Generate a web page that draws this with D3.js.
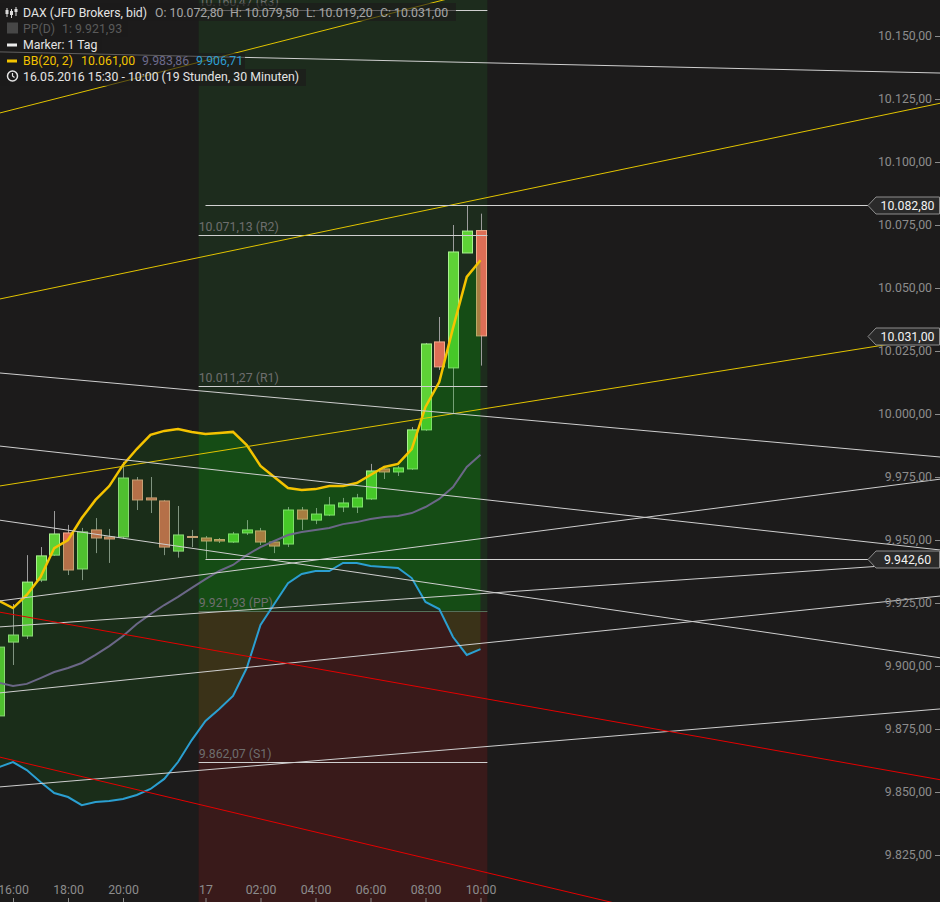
<!DOCTYPE html>
<html><head><meta charset="utf-8">
<script src="https://cdn.jsdelivr.net/npm/d3@7"></script>
<style>body{margin:0;background:#1c1b1b;} svg{display:block;font-family:Roboto, "Noto Sans", sans-serif;}</style>
</head><body><svg id="c" width="940" height="902"></svg>
<script>
// ---------- DATA ----------
const times = ["15:30","16:00","16:30","17:00","17:30","18:00","18:30","19:00","19:30","20:00","20:30","21:00","21:30","22:00","22:30",
  "00:00","00:30","01:00","01:30","02:00","02:30","03:00","03:30","04:00","04:30","05:00","05:30","06:00","06:30","07:00","07:30","08:00","08:30","09:00","09:30","10:00"];
const open  = [9880.2,9909.5,9911.9,9934.1,9944.0,9952.8,9938.5,9954.0,9951.2,9951.2,9973.8,9966.7,9965.5,9945.6,9951.4,9950.8,9950.2,9949.2,9952.8,9953.6,9949.2,9948.4,9961.9,9957.9,9959.9,9963.1,9963.1,9966.3,9978.2,9977.0,9978.2,9993.7,10028.6,10018.3,10063.9,10072.8];
const high  = [9909.0,9924.6,9944.0,9947.2,9961.5,9956.0,9954.8,9958.7,9954.4,9981.0,9975.0,9975.0,9965.9,9963.5,9954.0,9951.6,9950.8,9953.2,9957.9,9954.8,9950.0,9963.1,9963.1,9962.7,9967.1,9966.7,9968.3,9980.2,9979.0,9979.4,9994.8,10028.2,10038.5,10075.0,10082.8,10079.5];
const low   = [9876.0,9900.4,9910.7,9933.3,9943.7,9936.1,9934.1,9944.8,9940.9,9950.4,9961.9,9960.7,9944.0,9943.0,9947.2,9942.6,9948.8,9948.8,9952.0,9948.0,9944.8,9947.2,9954.0,9956.3,9959.5,9961.1,9960.7,9965.9,9974.2,9975.4,9977.8,9993.3,10017.5,10000.4,10063.9,10019.2];
const close = [9907.5,9912.3,9933.3,9943.7,9952.4,9938.1,9953.2,9950.8,9950.4,9974.6,9965.9,9965.9,9947.2,9952.0,9951.0,9949.6,9949.6,9952.4,9954.0,9949.2,9947.6,9961.9,9958.3,9960.3,9963.9,9964.7,9966.7,9977.4,9977.0,9978.6,9993.7,10027.8,10018.7,10064.3,10072.6,10031.0];

const bbUpper  = [9925.8,9923.0,9928.2,9935.3,9946.8,9950.0,9958.7,9965.9,9971.4,9979.8,9986.1,9991.7,9993.3,9994.0,9992.9,9992.1,9992.5,9992.9,9987.7,9979.4,9975.0,9970.6,9969.8,9970.2,9971.4,9971.4,9972.6,9975.8,9979.0,9980.2,9986.1,10002.8,10012.7,10034.1,10054.4,10061.00];
const bbMiddle = [9893.3,9892.1,9892.9,9895.2,9897.6,9899.2,9901.2,9904.4,9907.9,9911.9,9916.7,9920.6,9924.2,9927.4,9931.0,9934.5,9937.7,9940.1,9944.0,9947.2,9949.6,9952.0,9953.2,9954.0,9954.8,9956.3,9957.1,9958.3,9959.1,9959.5,9960.7,9963.1,9966.3,9971.0,9979.0,9983.86];
const bbLower  = [9859.9,9861.9,9858.7,9854.0,9849.6,9848.0,9844.8,9846.0,9846.4,9847.2,9848.8,9851.2,9855.2,9861.9,9870.6,9878.2,9882.9,9888.1,9899.2,9916.3,9924.6,9932.9,9936.5,9937.7,9937.7,9940.9,9940.9,9939.7,9939.3,9938.9,9934.9,9925.4,9922.6,9911.5,9904.4,9906.71];

const tickIdx    = [1,5,9,15,19,23,27,31,35];
const tickLabels = ["16:00","18:00","20:00","17","02:00","04:00","06:00","08:00","10:00"];
const priceTicks = [9825,9850,9875,9900,9925,9950,9975,10000,10025,10050,10075,10100,10125,10150];

const pivotNames  = ["R3","R2","R1","PP","S1"];
const pivotValues = [10160.47,10071.13,10011.27,9921.93,9862.07];
const markerValues = [10082.80, 9942.60];
const lastPrice = 10031.00;

// trend lines: price at left edge (index 0) and at right edge (index 68.5)
const trendKind  = ["yellow","yellow","yellow","white","white","white","white","white","white","white","white","red","red"];
const trendLeft  = [10119.4,10045.6,9971.4,10143.7,10016.3,9987.3,9957.9,9925.8,9915.5,9889.3,9852.0,9921.4,9863.9];
const trendRight = [10214.6,10123.4,10031.0,10135.3,9982.9,9946.0,9903.2,9974.2,9941.3,9927.8,9883.0,9854.8,9775.2];
const trendIdx = [0, 68.5];

// ---------- DRAW ----------
const W = 940, H = 902, FS = 12.3;
const svg = d3.select("#c");
const x = d3.scaleLinear().domain([0,35]).range([-0.75,480.5]);
const y = d3.scaleLinear().domain([9806.35,10164.29]).range([H,0]);
const fmt = d3.formatLocale({decimal:",",thousands:".",grouping:[3],currency:["","€"]}).format(",.2f");
const idx = d3.range(times.length);

svg.append("rect").attr("width",W).attr("height",H).attr("fill","#1c1b1b");

const zx0 = x(14.5), zx1 = x(35.5), ppY = y(pivotValues[3]);
svg.append("rect").attr("x",zx0).attr("y",0).attr("width",zx1-zx0).attr("height",ppY).attr("fill","#1d2c1d");
svg.append("rect").attr("x",zx0).attr("y",ppY).attr("width",zx1-zx0).attr("height",H-ppY).attr("fill","#391a1a");

// candles
const cg = svg.append("g");
idx.forEach(i=>{
  const up = close[i] >= open[i];
  const cx = Math.round(x(i)) + 0.5;
  cg.append("line").attr("x1",cx).attr("x2",cx).attr("y1",y(high[i])).attr("y2",y(low[i]))
    .attr("stroke","#9c9c9c").attr("stroke-width",1);
  const top = y(Math.max(open[i],close[i])), bot = y(Math.min(open[i],close[i]));
  cg.append("rect").attr("x",cx-5).attr("y",top).attr("width",10).attr("height",Math.max(1,bot-top))
    .attr("fill", up ? "#5ed236" : "#de6e56")
    .attr("stroke", up ? "#a8f28e" : "#f2ab8c").attr("stroke-width",1);
});

// BB fill overlay
const defs = svg.append("defs");
function clip(id,x0,y0,w,h){defs.append("clipPath").attr("id",id).append("rect").attr("x",x0).attr("y",y0).attr("width",w).attr("height",h);}
clip("cl",-10,0,zx0+10,H); clip("cg",zx0,0,zx1-zx0,ppY); clip("cr",zx0,ppY,zx1-zx0,H-ppY);
const area = d3.area().x(i=>x(i)).y0(i=>y(bbLower[i])).y1(i=>y(bbUpper[i]));
[["cl","rgba(20,122,20,0.2)"],["cg","rgba(0,170,0,0.25)"],["cr","rgba(62,122,18,0.25)"]].forEach(([c,f])=>{
  svg.append("path").datum(idx).attr("d",area).attr("fill",f).attr("clip-path",`url(#${c})`);
});

// pivot lines & labels
pivotValues.forEach((v,k)=>{
  const yy = Math.round(y(v))+0.5;
  svg.append("line").attr("x1",zx0).attr("x2",zx1).attr("y1",yy).attr("y2",yy)
    .attr("stroke", pivotNames[k]==="PP" ? "#55705a" : "#cfcfcf").attr("stroke-width",1);
  svg.append("text").attr("x",zx0).attr("y",yy-4.5).attr("font-size",FS).attr("fill","#6e6e6e")
    .text(fmt(v)+" ("+pivotNames[k]+")");
});

// BB lines
const line = arr => d3.line().x(i=>x(i)).y(i=>y(arr[i]));
svg.append("path").datum(idx).attr("d",line(bbMiddle)).attr("fill","none").attr("stroke","#6b6787").attr("stroke-width",2);
svg.append("path").datum(idx).attr("d",line(bbLower)).attr("fill","none").attr("stroke","#2b9fd1").attr("stroke-width",2);
svg.append("path").datum(idx).attr("d",line(bbUpper)).attr("fill","none").attr("stroke","#f4c300").attr("stroke-width",2.5);

// trend lines
const tcol = {yellow:"#e2c400", white:"#cfcfcf", red:"#e40000"};
trendKind.forEach((k,j)=>{
  svg.append("line").attr("x1",x(trendIdx[0])).attr("y1",y(trendLeft[j]))
    .attr("x2",x(trendIdx[1])).attr("y2",y(trendRight[j]))
    .attr("stroke",tcol[k]).attr("stroke-width",1);
});

// marker lines
markerValues.forEach(v=>{
  const yy = Math.round(y(v))+0.5;
  svg.append("line").attr("x1",x(15)).attr("x2",868).attr("y1",yy).attr("y2",yy).attr("stroke","#d2d2d2").attr("stroke-width",1);
});

// axes
const ay = svg.append("g").attr("transform",`translate(${W},0)`)
  .call(d3.axisLeft(y).tickValues(priceTicks).tickFormat(fmt).tickSize(5).tickPadding(3));
ay.select(".domain").remove();
ay.selectAll("text").attr("fill","#8c8c8c").attr("font-size",FS).attr("font-family","Roboto, sans-serif");
ay.selectAll("line").attr("stroke","#8c8c8c");

const ax = svg.append("g").attr("transform",`translate(0,${H})`)
  .call(d3.axisTop(x).tickValues(tickIdx).tickFormat((d,k)=>tickLabels[k]).tickSize(4).tickPadding(4));
ax.select(".domain").remove();
ax.selectAll("text").attr("fill","#8c8c8c").attr("font-size",FS).attr("font-family","Roboto, sans-serif");
ax.selectAll("line").attr("stroke","#8c8c8c");

// price tags
[markerValues[0], lastPrice, markerValues[1]].forEach(v=>{
  const yy = Math.round(y(v))+0.5;
  svg.append("path").attr("d",`M868,${yy} L876,${yy-8.5} L939.5,${yy-8.5} L939.5,${yy+8.5} L876,${yy+8.5} Z`)
    .attr("fill","#2a2a2a").attr("stroke","#8e8e8e").attr("stroke-width",1);
  svg.append("text").attr("x",907.5).attr("y",yy+4.3).attr("text-anchor","middle").attr("font-size",FS)
    .attr("fill","#f2f2f2").text(fmt(v));
});

// legend
const lg = svg.append("g");
const boxes = [[3,21,456],[21,37,128],[37,53,102],[53,69,245],[69,86,306]];
boxes.forEach(([y0,y1,w])=>lg.append("rect").attr("x",0).attr("y",y0).attr("width",w).attr("height",y1-y0).attr("fill","rgba(27,26,26,0.62)"));
function t(xx,yy,s,c){lg.append("text").attr("x",xx).attr("y",yy).attr("font-size",FS).attr("fill",c).text(s);}
// icon row1 (candles)
[[7,8,17,10,14],[11.5,9,18,11,15],[16,7,16,9,12]].forEach(([cx,a,b,c,d])=>{
  lg.append("line").attr("x1",cx).attr("x2",cx).attr("y1",a).attr("y2",b).attr("stroke","#dcdcdc");
  lg.append("rect").attr("x",cx-1.5).attr("y",c).attr("width",3).attr("height",d-c).attr("fill","#dcdcdc");
});
t(23,17,"DAX (JFD Brokers, bid)","#e4e4e4");
t(155,17,"O: "+fmt(open[35]),"#a6a6a6");
t(230,17,"H: "+fmt(high[35]),"#a6a6a6");
t(306,17,"L: "+fmt(low[35]),"#a6a6a6");
t(380,17,"C: "+fmt(close[35]),"#a6a6a6");
lg.append("rect").attr("x",7).attr("y",22.5).attr("width",11).attr("height",11).attr("fill","#474747");
t(23,33,"PP(D)","#5a5a5a");
t(62,33,"1: "+fmt(pivotValues[3]),"#5a5a5a");
lg.append("rect").attr("x",7).attr("y",43.5).attr("width",10).attr("height",3).attr("fill","#ececec");
t(23,49,"Marker: 1 Tag","#e4e4e4");
lg.append("rect").attr("x",7).attr("y",59.5).attr("width",10).attr("height",3).attr("fill","#f4c300");
t(23,65,"BB(20, 2)","#f2c200");
t(81,65,fmt(bbUpper[35]),"#f2c200");
t(142,65,fmt(bbMiddle[35]),"#6d6a8c");
t(196,65,fmt(bbLower[35]),"#2e9fd3");
lg.append("circle").attr("cx",12.5).attr("cy",76).attr("r",5).attr("fill","none").attr("stroke","#e4e4e4").attr("stroke-width",1.5);
lg.append("path").attr("d","M12.5,73 L12.5,76 L14.5,77.5").attr("fill","none").attr("stroke","#e4e4e4").attr("stroke-width",1.2);
t(23,81,"16.05.2016 15:30 - 10:00 (19 Stunden, 30 Minuten)","#e4e4e4");
</script></body></html>
